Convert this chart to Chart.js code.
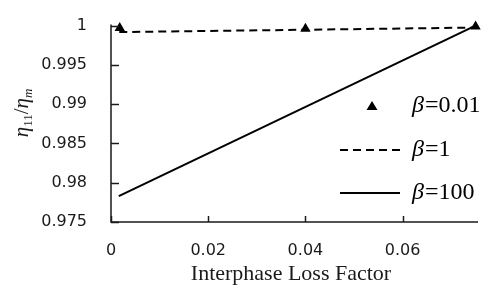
<!DOCTYPE html>
<html>
<head>
<meta charset="utf-8">
<script src="https://cdn.jsdelivr.net/npm/chart.js@4/dist/chart.umd.min.js"></script>
<style>
html,body{margin:0;padding:0;background:#fff;}
#wrap{width:484px;height:287px;position:relative;}
</style>
</head>
<body>
<div id="wrap"><canvas id="c" width="484" height="287"></canvas></div>
<script>
// ---- data ----
const xTicks = [0, 0.02, 0.04, 0.06];
const yTicks = [0.975, 0.98, 0.985, 0.99, 0.995, 1];
const beta001X = [0.0018, 0.04, 0.075];
const beta001Y = [0.9997, 0.9996, 0.9999];
const beta1X = [0.0017, 0.075];
const beta1Y = [0.99917, 0.99975];
const beta100X = [0.0016, 0.075];
const beta100Y = [0.9783, 1.0];
const legendLabels = ['β=0.01', 'β=1', 'β=100'];
const xTitle = 'Interphase Loss Factor';

const toPts = (xs, ys) => xs.map((x, i) => ({x: x, y: ys[i]}));

const ink = '#1a1a1a';

const decor = {
  id: 'decor',
  afterDraw(chart) {
    const ctx = chart.ctx;
    const a = chart.chartArea;
    const xs = chart.scales.x, ys = chart.scales.y;
    ctx.save();
    ctx.strokeStyle = ink;
    ctx.lineWidth = 1.5;
    // axis lines
    ctx.beginPath();
    ctx.moveTo(a.left, a.top - 1); ctx.lineTo(a.left, a.bottom); ctx.lineTo(a.right, a.bottom);
    ctx.stroke();
    // inward ticks
    yTicks.forEach(v => {
      const py = Math.round(ys.getPixelForValue(v)) + 0.5;
      ctx.beginPath(); ctx.moveTo(a.left, py); ctx.lineTo(a.left + 8, py); ctx.stroke();
    });
    xTicks.forEach(v => {
      const px = Math.round(xs.getPixelForValue(v)) + 0.5;
      ctx.beginPath(); ctx.moveTo(px, a.bottom); ctx.lineTo(px, a.bottom - 6); ctx.stroke();
    });
    // x title
    ctx.fillStyle = ink;
    ctx.font = '22px "Liberation Serif"';
    ctx.textAlign = 'center';
    ctx.textBaseline = 'middle';
    ctx.fillText(xTitle, 291, 274);
    // y title: eta_11 / eta_m rotated
    ctx.save();
    ctx.translate(22, 113);
    ctx.rotate(-Math.PI / 2);
    ctx.textBaseline = 'alphabetic';
    ctx.textAlign = 'left';
    const parts = [
      {t: 'η', f: 'italic 21px "Liberation Serif"', dy: 0},
      {t: '11', f: '13px "Liberation Serif"', dy: 4},
      {t: '/', f: '21px "Liberation Serif"', dy: 0},
      {t: 'η', f: 'italic 21px "Liberation Serif"', dy: 0},
      {t: 'm', f: 'italic 13px "Liberation Serif"', dy: 4}
    ];
    let w = 0;
    parts.forEach(p => { ctx.font = p.f; w += ctx.measureText(p.t).width; });
    let cx = -w / 2;
    parts.forEach(p => {
      ctx.font = p.f;
      ctx.fillText(p.t, cx, 6 + p.dy);
      cx += ctx.measureText(p.t).width;
    });
    ctx.restore();
    // legend
    const ly = [106, 150, 193];
    ctx.fillStyle = '#000';
    ctx.beginPath();
    ctx.moveTo(372, ly[0] - 5); ctx.lineTo(377.5, ly[0] + 4); ctx.lineTo(366.5, ly[0] + 4); ctx.closePath(); ctx.fill();
    ctx.lineWidth = 2;
    ctx.strokeStyle = '#000';
    ctx.setLineDash([8, 5]);
    ctx.beginPath(); ctx.moveTo(340, ly[1]); ctx.lineTo(400, ly[1]); ctx.stroke();
    ctx.setLineDash([]);
    ctx.beginPath(); ctx.moveTo(340, ly[2]); ctx.lineTo(400, ly[2]); ctx.stroke();
    ctx.textAlign = 'left';
    ctx.textBaseline = 'middle';
    legendLabels.forEach((lab, i) => {
      const b = lab.slice(0, 1), rest = lab.slice(1);
      ctx.font = 'italic 24px "Liberation Serif"';
      ctx.fillText(b, 412, ly[i]);
      const bw = ctx.measureText(b).width;
      ctx.font = '24px "Liberation Serif"';
      ctx.fillText(rest, 412 + bw + 1, ly[i]);
    });
    ctx.restore();
  }
};

new Chart(document.getElementById('c'), {
  type: 'scatter',
  data: {
    datasets: [
      {label: legendLabels[0], data: toPts(beta001X, beta001Y), showLine: false,
       pointStyle: 'triangle', pointRadius: 6, backgroundColor: '#000', borderColor: '#000', borderWidth: 0, clip: false},
      {label: legendLabels[1], data: toPts(beta1X, beta1Y), showLine: true, pointRadius: 0,
       borderColor: '#000', borderWidth: 2, borderDash: [8, 5], clip: false},
      {label: legendLabels[2], data: toPts(beta100X, beta100Y), showLine: true, pointRadius: 0,
       borderColor: '#000', borderWidth: 2, clip: false}
    ]
  },
  options: {
    responsive: false,
    animation: false,
    events: [],
    layout: {padding: {top: 19, right: 0, left: 0, bottom: 0}},
    plugins: {legend: {display: false}, tooltip: {enabled: false}},
    scales: {
      x: {
        type: 'linear', min: 0, max: 0.0755,
        afterFit(s) { s.height = 65; },
        afterBuildTicks(s) { s.ticks = xTicks.map(v => ({value: v})); },
        grid: {display: false},
        border: {display: false},
        ticks: {color: ink, font: {family: 'DejaVu Sans', size: 16}, padding: 11, maxRotation: 0,
                callback: v => String(v)}
      },
      y: {
        type: 'linear', min: 0.975, max: 1,
        afterFit(s) { s.width = 111; },
        afterBuildTicks(s) { s.ticks = yTicks.map(v => ({value: v})); },
        grid: {display: false},
        border: {display: false},
        ticks: {color: ink, font: {family: 'DejaVu Sans', size: 16}, padding: 16,
                callback: v => String(v)}
      }
    }
  },
  plugins: [decor]
});
</script>
</body>
</html>
